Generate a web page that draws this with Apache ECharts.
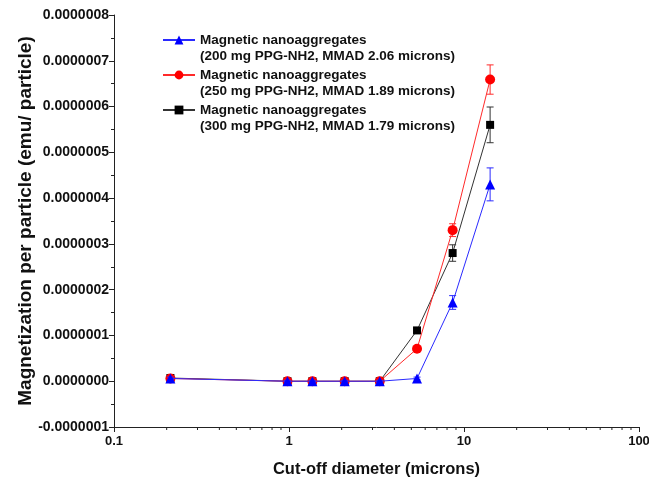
<!DOCTYPE html>
<html>
<head>
<meta charset="utf-8">
<script src="https://cdn.jsdelivr.net/npm/echarts@6/dist/echarts.min.js"></script>
<style>
  html, body { margin: 0; padding: 0; background: #fff; }
  #chart { width: 649px; height: 482px; }
</style>
</head>
<body>
<div id="chart"></div>
<script>
// Impactor stage cut-off diameters (microns)
const cutoff = [0.21, 0.98, 1.36, 2.08, 3.30, 5.39, 8.61, 14.1];

// Magnetization per particle (emu/particle) and its standard deviation
const mag200 = [6e-9, 0, 0, 0, 0, 6e-9, 1.72e-7, 4.30e-7];
const err200 = [3e-9, 2e-9, 2e-9, 2e-9, 2e-9, 3e-9, 1.5e-8, 3.6e-8];
const mag250 = [6e-9, 0, 0, 0, 0, 7.1e-8, 3.30e-7, 6.59e-7];
const err250 = [3e-9, 2e-9, 2e-9, 2e-9, 2e-9, 4e-9, 1.4e-8, 3.2e-8];
const mag300 = [7e-9, 0, 0, 0, 0, 1.11e-7, 2.80e-7, 5.60e-7];
const err300 = [3e-9, 2e-9, 2e-9, 2e-9, 2e-9, 5e-9, 1.8e-8, 3.9e-8];

// Series names
const names = [
  'Magnetic nanoaggregates\n(200 mg PPG-NH2, MMAD 2.06 microns)',
  'Magnetic nanoaggregates\n(250 mg PPG-NH2, MMAD 1.89 microns)',
  'Magnetic nanoaggregates\n(300 mg PPG-NH2, MMAD 1.79 microns)'
];

// Axis ranges and ticks
const xMin = 0.1, xMax = 100;
const yMin = -1e-7, yMax = 8e-7, yStep = 1e-7;
const xMinorTicks = [0.2, 0.3, 0.4, 0.5, 0.6, 0.7, 0.8, 0.9,
                     2, 3, 4, 5, 6, 7, 8, 9,
                     20, 30, 40, 50, 60, 70, 80, 90];

const FONT = "'Liberation Sans', Arial, sans-serif";
const AXIS_COLOR = '#222';

const styles = [
  { color: '#0000ff', line: '#2a2aff', symbol: 'triangle', size: 10 },
  { color: '#ff0000', line: '#ff2a2a', symbol: 'circle', size: 10 },
  { color: '#000000', line: '#333333', symbol: 'rect', size: 8 }
];
const values = [mag200, mag250, mag300];
const errors = [err200, err250, err300];

function pairs(xs, ys) { return xs.map((x, i) => [x, ys[i]]); }
function triples(xs, ys, es) { return xs.map((x, i) => [x, ys[i], es[i]]); }

function errorBarRenderer(color) {
  return function (params, api) {
    const x = api.value(0), y = api.value(1), e = api.value(2);
    const hi = api.coord([x, y + e]);
    const lo = api.coord([x, y - e]);
    const half = 3.5;
    const st = { stroke: color, lineWidth: 1 };
    return {
      type: 'group',
      children: [
        { type: 'line', shape: { x1: hi[0], y1: hi[1], x2: lo[0], y2: lo[1] }, style: st },
        { type: 'line', shape: { x1: hi[0] - half, y1: hi[1], x2: hi[0] + half, y2: hi[1] }, style: st },
        { type: 'line', shape: { x1: lo[0] - half, y1: lo[1], x2: lo[0] + half, y2: lo[1] }, style: st }
      ]
    };
  };
}

const series = [];
// draw order: 300 mg underneath, 200 mg on top
[2, 1, 0].forEach((k, order) => {
  const s = styles[k];
  series.push({
    type: 'custom',
    silent: true,
    z: 2 + order * 2,
    renderItem: errorBarRenderer(s.line),
    data: triples(cutoff, values[k], errors[k])
  });
  series.push({
    name: names[k],
    type: 'line',
    z: 3 + order * 2,
    data: pairs(cutoff, values[k]),
    symbol: s.symbol,
    symbolSize: s.size,
    showSymbol: true,
    lineStyle: { color: s.line, width: 1 },
    itemStyle: { color: s.color },
    emphasis: { disabled: true },
    animation: false
  });
});

// minor ticks on the logarithmic axis
series.push({
  type: 'custom',
  silent: true,
  z: 1,
  renderItem: function (params, api) {
    const p = api.coord([api.value(0), yMin]);
    return {
      type: 'line',
      shape: { x1: p[0], y1: p[1], x2: p[0], y2: p[1] + 3 },
      style: { stroke: AXIS_COLOR, lineWidth: 1 }
    };
  },
  data: xMinorTicks.map(v => [v, yMin])
});

// one legend block per series; a blank first line keeps the icon level with the title line
const legendIconY = [40, 75, 110];
const legends = [0, 1, 2].map(k => ({
  data: [names[k]],
  left: 157,
  top: legendIconY[k] - 24 - 5,
  orient: 'vertical',
  itemWidth: 32,
  itemHeight: 11,
  selectedMode: false,
  formatter: name => '\n' + name,
  textStyle: {
    fontFamily: FONT,
    fontSize: 13.5,
    fontWeight: 'bold',
    color: '#111',
    lineHeight: 16
  }
}));

const option = {
  animation: false,
  backgroundColor: '#fff',
  grid: { left: 114, right: 10, top: 15, bottom: 55, containLabel: false, outerBoundsMode: 'none' },
  legend: legends,
  xAxis: {
    type: 'log',
    logBase: 10,
    min: xMin,
    max: xMax,
    name: 'Cut-off diameter (microns)',
    nameLocation: 'middle',
    nameGap: 34,
    nameMoveOverlap: false,
    nameTextStyle: { fontFamily: FONT, fontSize: 16.5, fontWeight: 'bold', color: '#111' },
    axisLine: { onZero: false, lineStyle: { color: AXIS_COLOR, width: 1 } },
    axisTick: { show: true, length: 5, lineStyle: { color: AXIS_COLOR } },
    axisLabel: {
      fontFamily: FONT, fontSize: 13, fontWeight: 'bold', color: '#111', margin: 8,
      formatter: v => String(+v.toPrecision(3))
    },
    splitLine: { show: false }
  },
  yAxis: {
    type: 'value',
    min: yMin,
    max: yMax,
    interval: yStep,
    name: 'Magnetization per particle (emu/ particle)',
    nameLocation: 'middle',
    nameGap: 79,
    nameMoveOverlap: false,
    nameTextStyle: { fontFamily: FONT, fontSize: 19, fontWeight: 'bold', color: '#111' },
    axisLine: { show: true, onZero: false, lineStyle: { color: AXIS_COLOR, width: 1 } },
    axisTick: { show: true, length: 5, lineStyle: { color: AXIS_COLOR } },
    minorTick: { show: true, splitNumber: 2, length: 3, lineStyle: { color: AXIS_COLOR } },
    axisLabel: {
      fontFamily: FONT, fontSize: 14, fontWeight: 'bold', color: '#111', margin: 5,
      formatter: v => (Math.abs(v) < 1e-12 ? 0 : v).toFixed(7)
    },
    splitLine: { show: false }
  },
  series: series
};

const chart = echarts.init(document.getElementById('chart'), null, { renderer: 'canvas' });
chart.setOption(option);
</script>
</body>
</html>
